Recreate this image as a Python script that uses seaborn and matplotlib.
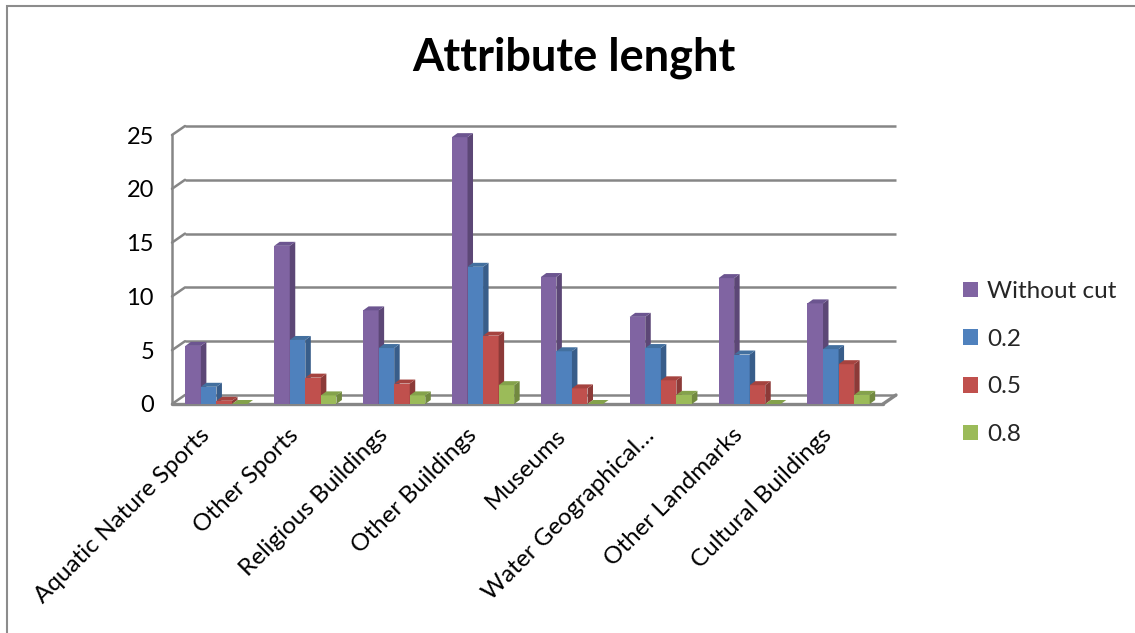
import numpy as np
import pandas as pd
import seaborn as sns
import matplotlib
matplotlib.use("Agg")
import matplotlib.pyplot as plt
from matplotlib.patches import Polygon, Rectangle, Patch
from matplotlib.transforms import ScaledTranslation

# ---- data -------------------------------------------------------------
categories = [
    "Aquatic Nature Sports",
    "Other Sports",
    "Religious Buildings",
    "Other Buildings",
    "Museums",
    "Water Geographical\u2026",
    "Other Landmarks",
    "Cultural Buildings",
]
series = ["Without cut", "0.2", "0.5", "0.8"]
without_cut = [5.4, 14.7, 8.7, 24.8, 11.8, 8.1, 11.7, 9.35]
cut_02 = [1.6, 5.95, 5.2, 12.75, 4.9, 5.2, 4.6, 5.1]
cut_05 = [0.3, 2.45, 1.9, 6.35, 1.45, 2.2, 1.75, 3.7]
cut_08 = [0.0, 0.8, 0.8, 1.75, 0.0, 0.85, 0.0, 0.85]
y_ticks = [0, 5, 10, 15, 20, 25]
title = "Attribute lenght"

front_colors = ["#8064A2", "#4F81BD", "#C0504D", "#9BBB59"]
side_colors = ["#5C4776", "#385D8A", "#8C3A38", "#71893F"]
top_colors = ["#6C5590", "#43709F", "#A5433F", "#84A24B"]

df = pd.DataFrame({
    "category": categories * 4,
    "series": np.repeat(series, len(categories)),
    "value": without_cut + cut_02 + cut_05 + cut_08,
})

# ---- figure -----------------------------------------------------------
sns.set_theme(style="white")
plt.rcParams["font.family"] = ["Lato", "DejaVu Sans"]

W, H = 1135, 633
fig = plt.figure(figsize=(W / 100, H / 100), dpi=100)
fig.patch.set_facecolor("white")

# plot area (front plane), in pixels
L, R, B, T = 172, 883, 404, 135
ax = fig.add_axes([L / W, 1 - B / H, (R - L) / W, (B - T) / H])

sns.barplot(
    data=df, x="category", y="value", hue="series",
    order=categories, hue_order=series, palette=front_colors,
    width=0.7, saturation=1, linewidth=0, errorbar=None,
    legend=False, ax=ax,
)

n = len(categories)
ax.set_xlim(-0.5, n - 0.5)
ax.set_ylim(0, 25)
ax.set_facecolor("none")
for s in ax.spines.values():
    s.set_visible(False)
ax.set_xlabel("")
ax.set_ylabel("")

# pixel -> data conversions for the pseudo-3D depth
xpx = (R - L) / n
ypx = (B - T) / 25.0
fdx, fdy = 13 / xpx, 9 / ypx      # wall / floor depth
bdx, bdy = 5.5 / xpx, 4 / ypx     # bar depth

grid_c = "#868686"
glw = 1.8
x0, x1 = -0.5, n - 0.5
for v in y_ticks:
    ax.plot([x0 + fdx, x1 + fdx], [v + fdy, v + fdy], color=grid_c, lw=glw,
            clip_on=False, zorder=0.5, solid_capstyle="butt")
    ax.plot([x0, x0 + fdx], [v, v + fdy], color=grid_c, lw=glw,
            clip_on=False, zorder=0.5)
# front vertical axis and floor edges
ax.plot([x0, x0], [0, 25], color=grid_c, lw=glw, clip_on=False, zorder=0.5)
ax.plot([x0, x1], [0, 0], color=grid_c, lw=glw + 0.6, clip_on=False, zorder=0.5)
ax.plot([x1, x1 + fdx], [0, fdy], color=grid_c, lw=glw + 0.6, clip_on=False, zorder=0.5)

# side and top faces of each bar
for i, cont in enumerate(ax.containers):
    for bar in cont:
        bx = bar.get_x()
        bw = bar.get_width()
        bh = bar.get_height()
        bar.set_zorder(2 + i)
        side = Polygon([(bx + bw, 0), (bx + bw + bdx, bdy),
                        (bx + bw + bdx, bh + bdy), (bx + bw, bh)],
                       closed=True, facecolor=side_colors[i], edgecolor="none",
                       zorder=2 + i, clip_on=False)
        top = Polygon([(bx, bh), (bx + bw, bh),
                       (bx + bw + bdx, bh + bdy), (bx + bdx, bh + bdy)],
                      closed=True, facecolor=top_colors[i], edgecolor="none",
                      zorder=2 + i, clip_on=False)
        ax.add_patch(side)
        ax.add_patch(top)

# ticks
ax.set_yticks(y_ticks)
ax.set_yticklabels([str(v) for v in y_ticks], fontsize=17, color="black")
ax.tick_params(axis="y", length=0, pad=13)
ax.set_xticks(range(n))
ax.set_xticklabels(categories, rotation=45, ha="right", va="center",
                   rotation_mode="anchor", fontsize=17.5, color="black")
ax.tick_params(axis="x", length=0, pad=20)
shift = ScaledTranslation(-10 / 100, 0, fig.dpi_scale_trans)
for lab in ax.get_xticklabels():
    lab.set_transform(lab.get_transform() + shift)

# title
fig.text(574 / W, 1 - 58 / H, title, ha="center", va="center",
         fontsize=32.5, fontweight="bold", color="black")

# legend
handles = [Patch(facecolor=c, edgecolor="none") for c in front_colors]
fig.legend(handles, series, loc="center left",
           bbox_to_anchor=(963 / W, 1 - 363 / H), frameon=False,
           fontsize=17.5, handlelength=0.6, handleheight=0.6,
           handletextpad=0.4, labelspacing=1.1, borderpad=0,
           borderaxespad=0)

# chart area border
fig.add_artist(Rectangle((7 / W, -0.05), 1.3, 1 - 6 / H + 0.05,
                         transform=fig.transFigure, fill=False,
                         edgecolor="#8C8C8C", lw=1.5))

fig.savefig("out.png", dpi=100, facecolor="white")
